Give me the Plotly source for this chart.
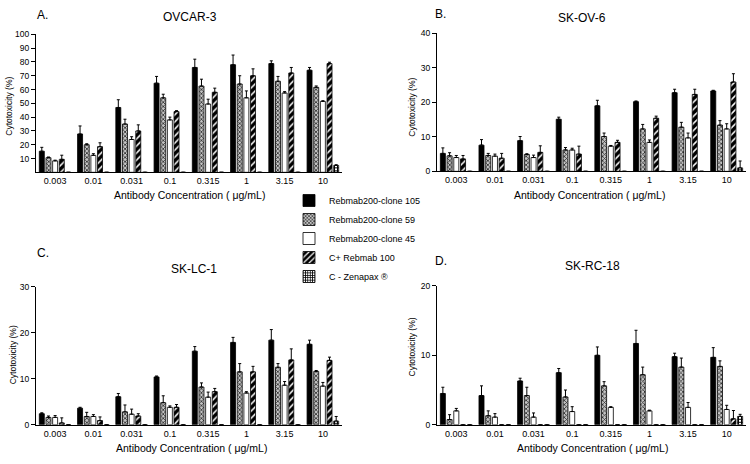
import plotly.graph_objects as go

# ---------------- data ----------------
concentrations = ["0.003", "0.01", "0.031", "0.1", "0.315", "1", "3.15", "10"]
series_names = ["Rebmab200-clone 105", "Rebmab200-clone 59", "Rebmab200-clone 45",
                "C+ Rebmab 100", "C - Zenapax ®"]

# Panel A: OVCAR-3
ovcar3_c105 = [15.3, 27.8, 47.0, 64.6, 76.0, 78.0, 78.8, 74.0]
ovcar3_c105_err = [2.8, 5.8, 5.6, 4.9, 6.0, 7.0, 2.0, 2.0]
ovcar3_c59 = [10.6, 20.0, 35.0, 54.0, 62.5, 64.0, 66.0, 61.6]
ovcar3_c59_err = [0.5, 0.7, 3.5, 2.6, 5.0, 6.0, 3.5, 1.0]
ovcar3_c45 = [8.3, 12.3, 23.8, 38.0, 49.5, 54.0, 57.5, 51.4]
ovcar3_c45_err = [0.5, 1.2, 2.0, 2.0, 3.5, 5.0, 1.0, 0.5]
ovcar3_cpos = [9.4, 18.6, 30.0, 44.0, 58.0, 70.0, 72.0, 78.8]
ovcar3_cpos_err = [3.0, 2.8, 4.4, 0.7, 3.0, 5.0, 4.0, 1.0]
ovcar3_cneg = [0, 0, 0, 0, 0, 0, 0, 5.0]
ovcar3_cneg_err = [0, 0, 0, 0, 0, 0, 0, 0.5]

# Panel B: SK-OV-6
skov6_c105 = [5.2, 7.6, 8.9, 15.1, 19.0, 20.2, 22.8, 23.3]
skov6_c105_err = [1.6, 1.6, 1.2, 0.6, 1.6, 0.2, 1.0, 0.2]
skov6_c59 = [4.5, 4.6, 4.9, 6.2, 10.1, 12.3, 12.8, 13.4]
skov6_c59_err = [0.9, 0.6, 0.2, 0.7, 1.0, 1.3, 1.4, 1.3]
skov6_c45 = [4.0, 4.4, 4.0, 6.2, 7.3, 8.4, 9.7, 12.3]
skov6_c45_err = [0.6, 0.6, 0.7, 0.5, 0.2, 0.7, 1.4, 1.5]
skov6_cpos = [3.6, 3.8, 5.5, 5.0, 8.4, 15.4, 22.3, 25.9]
skov6_cpos_err = [1.0, 1.4, 1.9, 2.3, 0.6, 0.6, 1.5, 2.4]
skov6_cneg = [0, 0, 0, 0, 0, 0, 0, 1.0]
skov6_cneg_err = [0, 0, 0, 0, 0, 0, 0, 2.0]

# Panel C: SK-LC-1
sklc1_c105 = [2.4, 3.6, 6.1, 10.4, 16.0, 17.9, 18.4, 17.5]
sklc1_c105_err = [0.2, 0.2, 0.7, 0.2, 1.0, 1.1, 2.3, 0.9]
sklc1_c59 = [1.6, 1.8, 2.8, 4.8, 8.2, 11.5, 12.5, 11.6]
sklc1_c59_err = [0.3, 0.9, 1.5, 1.5, 0.9, 1.8, 0.8, 0.2]
sklc1_c45 = [1.6, 1.8, 2.3, 3.8, 6.0, 6.9, 8.6, 8.4]
sklc1_c45_err = [0.4, 0.4, 1.1, 0.3, 1.1, 0.3, 0.8, 0.8]
sklc1_cpos = [0.4, 0.9, 1.9, 3.8, 7.2, 11.5, 14.1, 14.0]
sklc1_cpos_err = [1.1, 0.8, 0.5, 0.6, 0.7, 1.2, 2.4, 0.7]
sklc1_cneg = [0, 0, 0, 0, 0, 0, 0, 0.8]
sklc1_cneg_err = [0, 0, 0, 0, 0, 0, 0, 1.0]

# Panel D: SK-RC-18
skrc18_c105 = [4.5, 4.2, 6.3, 7.5, 10.0, 11.7, 9.8, 9.7]
skrc18_c105_err = [0.9, 1.4, 0.4, 0.6, 1.2, 1.9, 0.5, 1.4]
skrc18_c59 = [0.75, 1.3, 4.2, 4.0, 5.6, 7.2, 8.3, 8.4]
skrc18_c59_err = [0.7, 0.7, 1.2, 1.0, 0.6, 1.1, 1.3, 0.8]
skrc18_c45 = [2.0, 1.1, 1.1, 1.9, 2.5, 2.0, 2.5, 2.2]
skrc18_c45_err = [0.35, 0.5, 0.6, 0.7, 0.1, 0.1, 0.7, 0.6]
skrc18_cpos = [0, 0, 0, 0, 0, 0, 0, 0.85]
skrc18_cpos_err = [0, 0, 0, 0, 0, 0, 0, 1.2]
skrc18_cneg = [0, 0, 0, 0, 0, 0, 0, 1.2]
skrc18_cneg_err = [0, 0, 0, 0, 0, 0, 0, 0.3]

panels = [
    dict(title="OVCAR-3", letter="A.",
         values=[ovcar3_c105, ovcar3_c59, ovcar3_c45, ovcar3_cpos, ovcar3_cneg],
         errors=[ovcar3_c105_err, ovcar3_c59_err, ovcar3_c45_err, ovcar3_cpos_err, ovcar3_cneg_err],
         yrange=[0, 100], yticks=[10, 20, 30, 40, 50, 60, 70, 80, 90, 100]),
    dict(title="SK-OV-6", letter="B.",
         values=[skov6_c105, skov6_c59, skov6_c45, skov6_cpos, skov6_cneg],
         errors=[skov6_c105_err, skov6_c59_err, skov6_c45_err, skov6_cpos_err, skov6_cneg_err],
         yrange=[0, 40], yticks=[0, 10, 20, 30, 40]),
    dict(title="SK-LC-1", letter="C.",
         values=[sklc1_c105, sklc1_c59, sklc1_c45, sklc1_cpos, sklc1_cneg],
         errors=[sklc1_c105_err, sklc1_c59_err, sklc1_c45_err, sklc1_cpos_err, sklc1_cneg_err],
         yrange=[0, 30], yticks=[0, 10, 20, 30]),
    dict(title="SK-RC-18", letter="D.",
         values=[skrc18_c105, skrc18_c59, skrc18_c45, skrc18_cpos, skrc18_cneg],
         errors=[skrc18_c105_err, skrc18_c59_err, skrc18_c45_err, skrc18_cpos_err, skrc18_cneg_err],
         yrange=[0, 20], yticks=[0, 10, 20]),
]

# ---------------- styling ----------------
W, H = 750, 464
FONT = "Liberation Sans, Arial, sans-serif"

styles = [
    dict(color="black", pattern=dict(shape="")),
    dict(color="white", pattern=dict(shape="x", fgcolor="#2a2a2a", bgcolor="#c4c4c4",
                                     size=3, solidity=0.45, fillmode="replace")),
    dict(color="white", pattern=dict(shape="")),
    dict(color="black", pattern=dict(shape="/", fgcolor="white", bgcolor="black",
                                     size=5, solidity=0.3, fillmode="replace")),
    dict(color="white", pattern=dict(shape="+", fgcolor="black", bgcolor="white",
                                     size=3, solidity=0.55, fillmode="replace")),
]

# pixel layout of each panel: (x0, x1, ytop, ybottom)
boxes = [(36, 342, 30, 171), (437, 746, 29, 170), (36, 342, 288, 429), (437, 746, 287, 429)]
title_pos = [(190, 12), (582, 13), (194, 270), (592, 267)]
letter_pos = [(35, 10), (433, 9), (35, 253), (433, 262)]
xtitle_pos = [(189, 194), (589, 194), (191, 453), (592, 453)]
ytitle_pos = [(9, 104), (412, 105), (13, 358), (412, 350)]


def px(x):
    return x / W


def py(y):
    return 1 - y / H


fig = go.Figure()
layout = dict(
    width=W, height=H, margin=dict(l=0, r=0, t=0, b=0),
    paper_bgcolor="white", plot_bgcolor="white",
    font=dict(family=FONT, size=9, color="black"),
    barmode="group", bargap=0.13, bargroupgap=0.25,
    showlegend=True,
    legend=dict(x=px(289), y=py(185), xanchor="left", yanchor="top",
                font=dict(size=9, family=FONT), bgcolor="rgba(0,0,0,0)",
                tracegroupgap=0, itemclick=False),
)
annotations = []

for i, p in enumerate(panels):
    n = i + 1
    xa = "x" if n == 1 else f"x{n}"
    ya = "y" if n == 1 else f"y{n}"
    for s, (name, vals, errs) in enumerate(zip(series_names, p["values"], p["errors"])):
        st = styles[s]
        fig.add_trace(go.Bar(
            x=concentrations, y=vals, name=name, legendgroup=name,
            showlegend=(i == 0), xaxis=xa, yaxis=ya,
            marker=dict(color=st["color"], pattern=st["pattern"],
                        line=dict(color="black", width=0.8)),
            error_y=dict(type="data", array=errs, arrayminus=[0] * len(errs),
                         symmetric=False, color="black", thickness=1, width=1.5),
        ))
    x0, x1, yt, yb = boxes[i]
    xkey = "xaxis" if n == 1 else f"xaxis{n}"
    ykey = "yaxis" if n == 1 else f"yaxis{n}"
    layout[xkey] = dict(domain=[px(x0), px(x1)], anchor=ya, type="category",
                        range=[-0.5, len(concentrations) - 0.5],
                        showline=True, linecolor="black", linewidth=1,
                        ticks="", showgrid=False, zeroline=False,
                        tickfont=dict(size=9, family=FONT))
    layout[ykey] = dict(domain=[py(yb), py(yt)], anchor=xa, range=p["yrange"],
                        tickvals=p["yticks"], showline=True, linecolor="black",
                        linewidth=1, ticks="outside", ticklen=4, tickwidth=1,
                        tickcolor="black", showgrid=False, zeroline=False,
                        tickfont=dict(size=8.5, family=FONT))
    tx, ty = title_pos[i]
    annotations.append(dict(text=p["title"], x=px(tx), y=py(ty), xref="paper", yref="paper",
                            showarrow=False, font=dict(size=12, family=FONT),
                            xanchor="center", yanchor="middle"))
    lx, ly = letter_pos[i]
    annotations.append(dict(text=p["letter"], x=px(lx), y=py(ly), xref="paper", yref="paper",
                            showarrow=False, font=dict(size=12, family=FONT),
                            xanchor="left", yanchor="middle"))
    ax_, ay_ = xtitle_pos[i]
    annotations.append(dict(text="Antibody Concentration ( \u03bcg/mL)", x=px(ax_), y=py(ay_),
                            xref="paper", yref="paper", showarrow=False,
                            font=dict(size=10.5, family=FONT), xanchor="center",
                            yanchor="middle"))
    yx, yy = ytitle_pos[i]
    annotations.append(dict(text="Cytotoxicity (%)", x=px(yx), y=py(yy), xref="paper",
                            yref="paper", showarrow=False, textangle=-90,
                            font=dict(size=8.5, family=FONT), xanchor="center",
                            yanchor="middle"))

layout["annotations"] = annotations
fig.update_layout(**layout)
# remove the browser's default page margin so the figure fills the window exactly
fig.write_html("out.html",
               config={"displayModeBar": False},
               post_script="document.body.style.margin='0';document.body.style.overflow='hidden';")
